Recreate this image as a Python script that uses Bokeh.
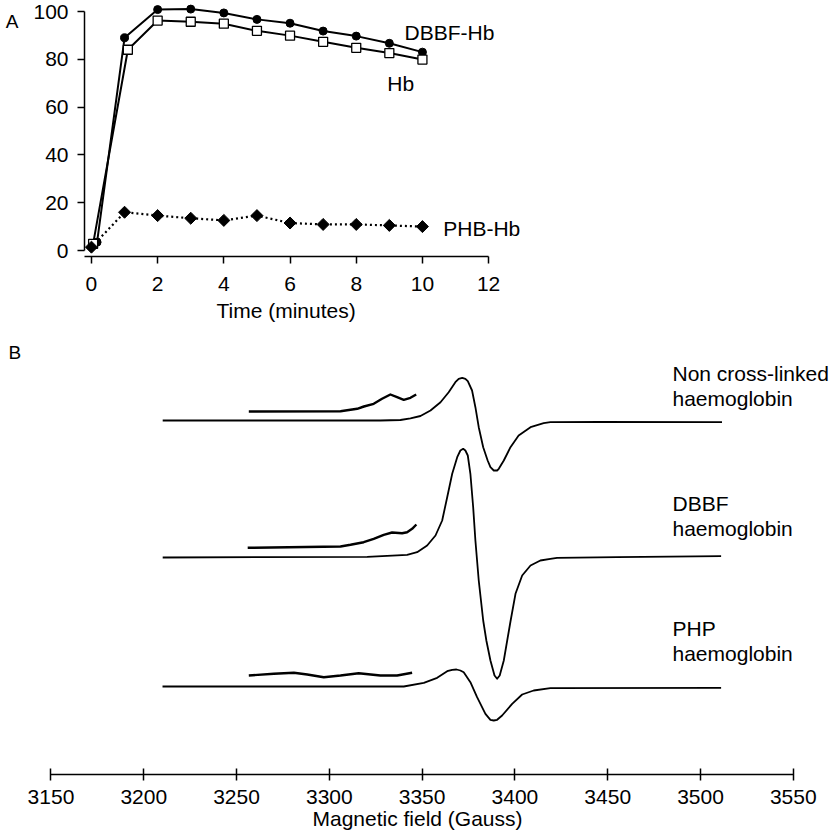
import math
from bokeh.plotting import figure
from bokeh.models import Range1d, FixedTicker, LinearAxis, Title
from bokeh.core.properties import value
from bokeh.embed import file_html
from bokeh.resources import INLINE

FONT = "Liberation Sans"

# ---------------- Panel A data ----------------
dbbf_time = [0.17, 1, 2, 3, 4, 5, 6, 7, 8, 9, 10]
dbbf_val = [3.5, 89, 100.8, 101, 99.4, 96.7, 95.1, 91.8, 89.7, 86.7, 83.0]
hb_time = [0.05, 1.1, 2, 3, 4, 5, 6, 7, 8, 9, 10]
hb_val = [2.8, 84, 96.2, 95.7, 94.9, 91.9, 89.9, 87.3, 84.8, 82.6, 79.9]
phb_time = [0, 1, 2, 3, 4, 5, 6, 7, 8, 9, 10]
phb_val = [1.4, 16.0, 14.6, 13.5, 12.6, 14.6, 11.5, 10.9, 10.9, 10.5, 10.0]
a_x_ticks = [0, 2, 4, 6, 8, 10, 12]
a_y_ticks = [0, 20, 40, 60, 80, 100]
a_series_labels = ["DBBF-Hb", "Hb", "PHB-Hb"]

# ---------------- Panel B data (field in Gauss, signal in arbitrary units) ----------------
nx_field = [3210.2, 3327.5, 3338.3, 3343.7, 3349.1, 3354.5, 3359.9, 3364.3, 3367.9, 3369.7,
            3371.6, 3373.3, 3374.6, 3376.9, 3378.7, 3380.5, 3382.9, 3385.3, 3386.8, 3388.6,
            3390.4, 3391.3, 3394.0, 3397.6, 3402.0, 3408.4, 3415.5, 3419.1, 3446.0, 3511.6]
nx_signal = [0, 0, 0.5, 2.2, 4.5, 10, 18.3, 28.3, 38.3, 41.7,
             42.7, 41.7, 39.3, 30, 13.3, -6.7, -26.7, -40, -46.7, -50,
             -50, -48.3, -40, -26.7, -15, -6.7, -2.7, -1.7, -1.5, -1.7]
nx_zoom_field = [3256.6, 3306.0, 3315.0, 3318.6, 3323.9, 3328.4, 3332.9, 3336.5, 3340.1, 3343.7, 3346.8]
nx_zoom_signal = [9, 9.3, 11.7, 14, 16.7, 21.7, 26, 23.3, 20.7, 22.7, 26]

dbbf_field = [3210.2, 3320.4, 3341.9, 3347.3, 3352.7, 3357.2, 3360.8, 3363.5, 3366.2, 3368.9,
              3370.6, 3372.1, 3373.3, 3374.6, 3376.0, 3377.5, 3378.7, 3380.5, 3382.9, 3384.6,
              3386.8, 3389.0, 3390.4, 3391.8, 3394.0, 3397.6, 3400.3, 3403.9, 3408.4, 3413.7,
              3419.1, 3422.7, 3455.1, 3511.1]
dbbf_signal = [0, 0.7, 2.7, 5.3, 12, 22, 37, 60.3, 83.7, 100.3,
               107, 108.7, 107, 102, 83.7, 50.3, 17, -23, -63, -83,
               -103, -118, -121.3, -118, -103, -64, -36.3, -18, -8, -3,
               -1.3, -0.3, 0.3, 1.3]
dbbf_zoom_field = [3256.0, 3306.0, 3311.4, 3318.5, 3323.9, 3329.3, 3333.8, 3339.2, 3341.9, 3344.6, 3346.9]
dbbf_zoom_signal = [9.7, 11, 12.7, 15.3, 18.7, 22.7, 25, 24.3, 25.3, 28.7, 33]

php_field = [3210.1, 3340.1, 3350.9, 3358.1, 3363.5, 3366.2, 3368.5, 3370.6, 3372.4, 3376.0,
             3379.6, 3384.1, 3386.8, 3388.6, 3390.4, 3393.1, 3398.5, 3403.9, 3410.1, 3419.1,
             3511.1]
php_signal = [0, 0, 3.7, 8.7, 15.3, 16.7, 17, 16, 14.3, 4.3,
              -10.7, -27.3, -33.3, -34, -33.3, -29, -17.3, -8, -4, -1.7,
              -1.3]
php_zoom_field = [3256.6, 3270.1, 3280.9, 3288.1, 3297.0, 3306.0, 3315.8, 3327.5, 3336.5, 3344.6]
php_zoom_signal = [11, 12.7, 13.7, 12, 9.3, 11, 13.3, 11, 11, 13.7]

b_x_ticks = [3150, 3200, 3250, 3300, 3350, 3400, 3450, 3500, 3550]
trace_labels = [["Non cross-linked", "haemoglobin"], ["DBBF", "haemoglobin"], ["PHP", "haemoglobin"]]
trace_offsets = [354, 217, 88]
label_y = [[401, 376], [271, 246], [146, 121]]


def style_axis(ax, size="21px"):
    ax.major_label_text_font = FONT
    ax.major_label_text_font_size = size
    ax.major_label_text_color = "black"
    ax.axis_label_text_font = FONT
    ax.axis_label_text_font_size = size
    ax.axis_label_text_font_style = "normal"
    ax.axis_label_text_color = "black"
    ax.axis_line_color = "black"
    ax.axis_line_width = 1.5
    ax.major_tick_line_color = "black"
    ax.major_tick_line_width = 1.5
    ax.minor_tick_line_color = None


# ---------------- Panel A ----------------
pa = figure(width=834, height=328, output_backend="svg", toolbar_location=None,
            x_range=Range1d(-0.21, 22.45), y_range=Range1d(-2.51, 104.6),
            min_border_left=84, min_border_right=0, min_border_top=0, min_border_bottom=72)
pa.grid.visible = False
pa.outline_line_color = None
pa.background_fill_color = "white"

style_axis(pa.xaxis[0])
pa.xaxis.ticker = FixedTicker(ticks=a_x_ticks)
pa.xaxis.bounds = (-0.21, 12)
pa.xaxis.major_tick_in = 0
pa.xaxis.major_tick_out = 7
pa.xaxis.major_label_standoff = 13

pa.add_layout(Title(text="Time (minutes)", align="left", offset=132, standoff=6,
                    text_font=FONT, text_font_size="21px", text_font_style="normal",
                    text_color="black"), "below")

style_axis(pa.yaxis[0])
pa.yaxis.ticker = FixedTicker(ticks=a_y_ticks)
pa.yaxis.bounds = (0, 100)
pa.yaxis.major_tick_in = 0
pa.yaxis.major_tick_out = 7
pa.yaxis.major_label_standoff = 9

# panel letter "A" drawn as the single label of an extra (line-less) left axis
letter_axis = LinearAxis(ticker=FixedTicker(ticks=[96]), major_label_overrides={96: "A"},
                         axis_line_color=None, major_tick_line_color=None, minor_tick_line_color=None,
                         major_label_text_font=FONT, major_label_text_font_size="19px",
                         major_label_text_color="black", major_label_standoff=6)
pa.add_layout(letter_axis, "left")

pa.line(dbbf_time, dbbf_val, line_color="black", line_width=2)
pa.line(hb_time, hb_val, line_color="black", line_width=2)
pa.line(phb_time, phb_val, line_color="black", line_width=2.2, line_dash="2 3")
pa.scatter(dbbf_time, dbbf_val, marker="circle", size=8, fill_color="black", line_color="black")
pa.scatter(hb_time, hb_val, marker="square", size=9, fill_color="white", line_color="black", line_width=1.3)
pa.scatter(phb_time, phb_val, marker="square", angle=math.pi / 4, size=8.5,
           fill_color="black", line_color="black")

pa.text(x=[9.46, 8.94, 10.63], y=[91.2, 69.9, 9.2], text=a_series_labels,
        text_font=value(FONT), text_font_size="21px", text_color="black",
        text_align="left", text_baseline="middle")

# ---------------- Panel B ----------------
pb = figure(width=834, height=504, output_backend="svg", toolbar_location=None,
            x_range=Range1d(3122.8, 3572.2), y_range=Range1d(0, 446),
            y_axis_location=None,
            min_border_left=0, min_border_right=0, min_border_top=0, min_border_bottom=58)
pb.grid.visible = False
pb.outline_line_color = None
style_axis(pb.xaxis[0])
pb.xaxis.ticker = FixedTicker(ticks=b_x_ticks)
pb.xaxis.bounds = (3150, 3550)
pb.xaxis.major_tick_in = 6
pb.xaxis.major_tick_out = 6
pb.xaxis.major_label_standoff = 9
pb.xaxis.axis_label = "Magnetic field (Gauss)"
pb.xaxis.axis_label_standoff = 0

traces = [(nx_field, nx_signal, nx_zoom_field, nx_zoom_signal),
          (dbbf_field, dbbf_signal, dbbf_zoom_field, dbbf_zoom_signal),
          (php_field, php_signal, php_zoom_field, php_zoom_signal)]
for (f, s, zf, zs), off in zip(traces, trace_offsets):
    pb.line(f, [v + off for v in s], line_color="black", line_width=1.8, line_join="round")
    pb.line(zf, [v + off for v in zs], line_color="black", line_width=2.4, line_join="round")

for lab, ys in zip(trace_labels, label_y):
    pb.text(x=[3484.9, 3484.9], y=ys, text=lab, text_font=value(FONT), text_font_size="21px",
            text_color="black", text_align="left", text_baseline="middle")

pb.text(x=[3127.1], y=[422], text=["B"], text_font=value(FONT), text_font_size="19px",
        text_color="black", text_align="left", text_baseline="middle")

open("out.html", "w").write(file_html([pa, pb], INLINE))
